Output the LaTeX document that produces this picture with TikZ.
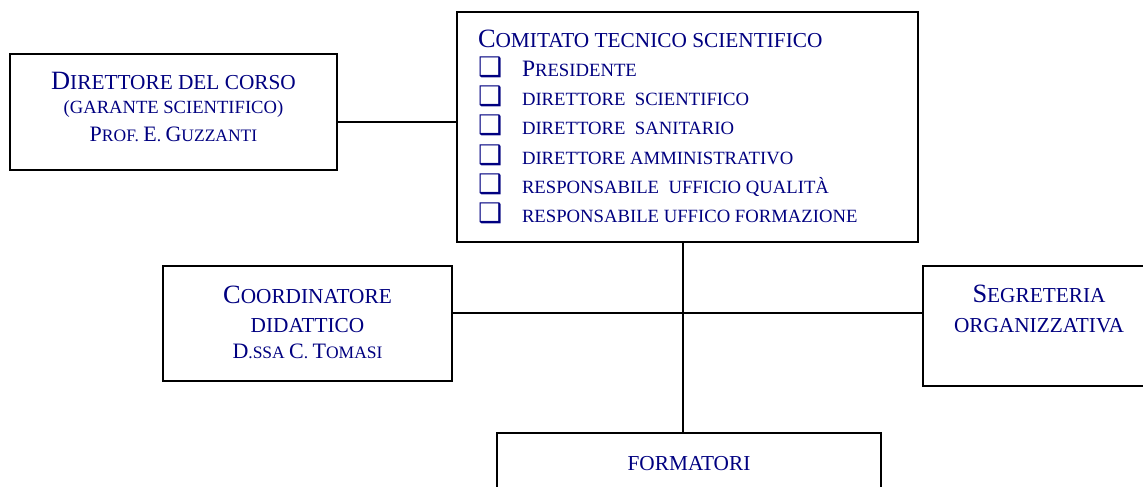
\documentclass[tikz,border=0pt]{standalone}
\usepackage{fontspec}
\setmainfont{Liberation Serif}
\newfontfamily\dingfont{DejaVu Sans}
\usetikzlibrary{positioning}

\definecolor{navytext}{RGB}{0,0,128}

% maiuscoletto
\newcommand{\Lbig}{\fontsize{26.4pt}{26.4pt}\selectfont}
\newcommand{\Lsmall}{\fontsize{21.3pt}{21.3pt}\selectfont}
\newcommand{\Nbig}{\fontsize{23.5pt}{23.5pt}\selectfont}
\newcommand{\Tbig}{\fontsize{22pt}{22pt}\selectfont}
\newcommand{\Tsmall}{\fontsize{17.5pt}{17.5pt}\selectfont}
\newcommand{\chk}{\makebox[44pt][l]{\dingfont\fontsize{27pt}{27pt}\selectfont ❑}}
\newcommand{\boxtext}[4]{\parbox[c][#2][t]{#1}{\vspace*{#3}#4}}

\begin{document}
\begin{tikzpicture}[x=1pt,y=-1pt]

        % stili
        \tikzstyle{unit} = [rectangle, draw=black, line width=1.8pt, inner sep=0pt, text=navytext]
        \tikzstyle{link} = [line width=1.8pt]

        \useasboundingbox (0,0) rectangle (1143,487);

        % nodi
        \node (ctc) [unit] at (687.5,127) {\boxtext{461pt}{230pt}{17.6pt}{\raggedright\leftskip=21pt
            \fontsize{18.7pt}{29.3pt}\selectfont
            {\Lbig C}{\Lsmall OMITATO TECNICO SCIENTIFICO}\\
            \chk{\Nbig P}RESIDENTE\\
            \chk DIRETTORE\ \ SCIENTIFICO\\
            \chk DIRETTORE\ \ SANITARIO\\
            \chk DIRETTORE AMMINISTRATIVO\\
            \chk RESPONSABILE\ \ UFFICIO QUALITÀ\\
            \chk RESPONSABILE UFFICO FORMAZIONE}};
        \node (dir) [unit] at (173.5,112) {\boxtext{327pt}{116pt}{18pt}{\centering
            \fontsize{18.6pt}{24.5pt}\selectfont
            {\Lbig D}{\Lsmall IRETTORE DEL CORSO}\\
            (GARANTE SCIENTIFICO)\\[3pt]
            {\Tbig P}{\Tsmall ROF. }{\Tbig E}{\Tsmall . }{\Tbig G}{\Tsmall UZZANTI}}};
        \node (coord) [unit] at (307.5,323.5) {\boxtext{289pt}{115pt}{19.8pt}{\centering
            \fontsize{21.3pt}{29pt}\selectfont
            {\Lbig C}OORDINATORE\\
            DIDATTICO\\[-3pt]
            {\Tbig D}{\Tsmall .SSA }{\Tbig C}{\Tsmall . }{\Tbig T}{\Tsmall OMASI}}};
        \node (seg) [unit] at (1039,326) {\boxtext{232pt}{120pt}{18.8pt}{\centering
            \fontsize{21.3pt}{30pt}\selectfont
            {\Lbig S}EGRETERIA\\
            ORGANIZZATIVA}};
        \node (form) [unit] at (689,476.5) {\boxtext{384pt}{87pt}{23pt}{\centering
            \fontsize{21.3pt}{21.3pt}\selectfont FORMATORI}};

        % collegamenti
        \draw [link] ([yshift=-10pt]dir.east) -- ([yshift=-10pt]dir.east -| ctc.west);
        \draw [link] ([xshift=-4.5pt]ctc.south) -- ([xshift=-4.5pt]ctc.south |- form.north);
        \draw [link] ([yshift=10.5pt]coord.east) -- ([yshift=10.5pt]coord.east -| seg.west);

\end{tikzpicture}
\end{document}
